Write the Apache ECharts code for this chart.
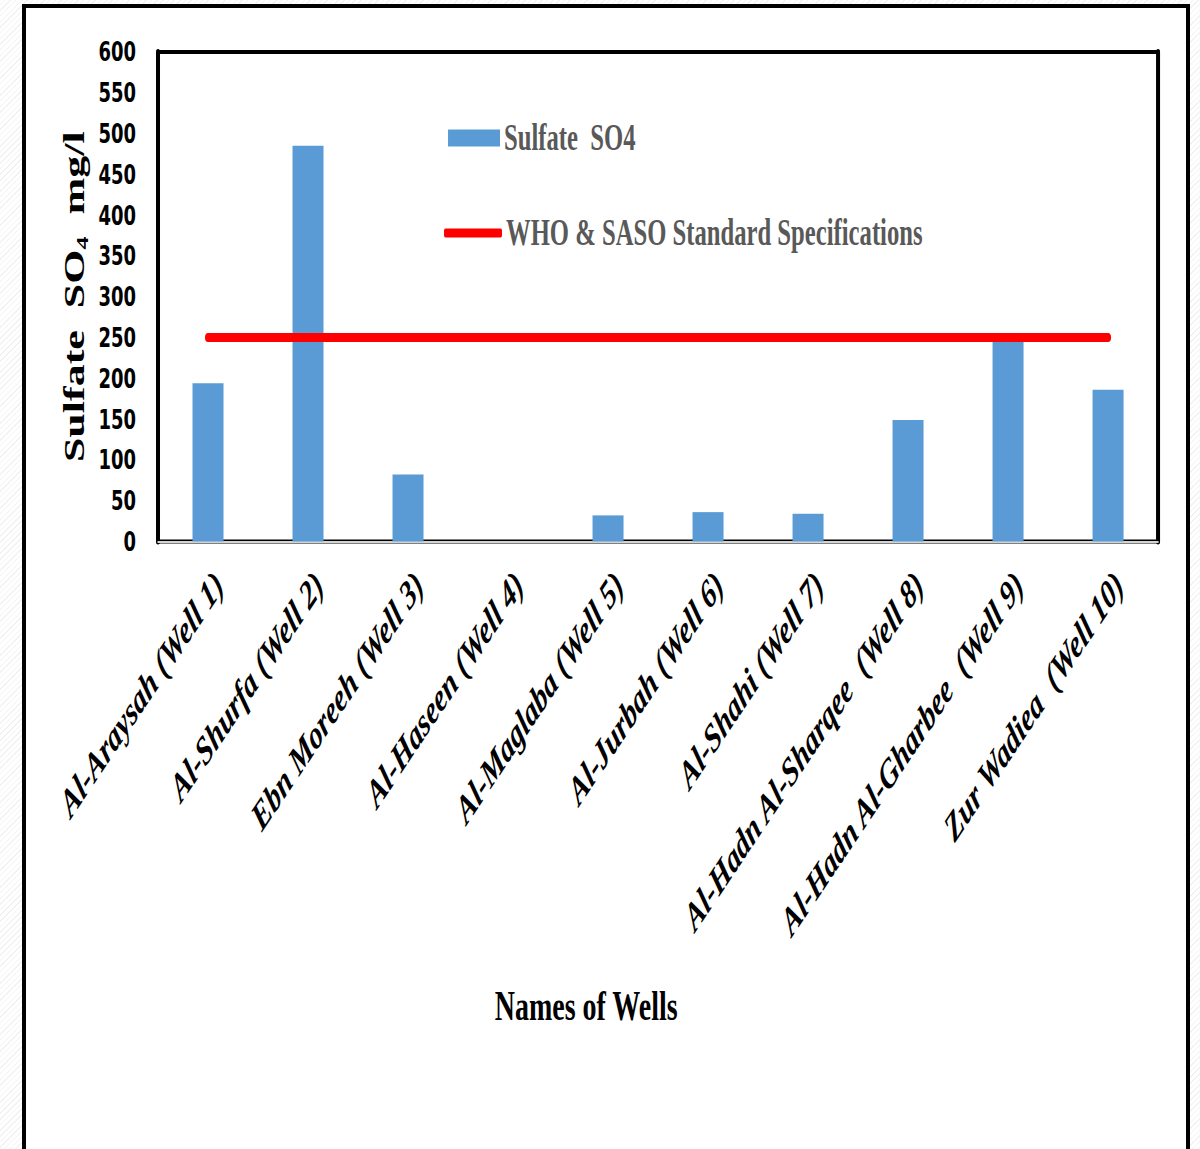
<!DOCTYPE html>
<html>
<head>
<meta charset="utf-8">
<title>Sulfate SO4 in wells</title>
<script src="https://cdn.jsdelivr.net/npm/echarts@6/dist/echarts.min.js"></script>
<style>
  html, body { margin: 0; padding: 0; width: 1200px; height: 1149px; overflow: hidden; }
  body {
    position: relative;
    background-color: #ffffff;
    background-image: repeating-linear-gradient(135deg, #ffffff 0 3px, #f2f2f2 3px 4px);
  }
  #frame {
    position: absolute; left: 22px; top: 4px; width: 1160px; height: 1200px;
    border: 4px solid #000; background: #ffffff; box-sizing: content-box;
  }
  /* the chart is laid out wide and squeezed horizontally to get the narrow lettering */
  #chart {
    position: absolute; left: 0; top: 0; width: 1800px; height: 1149px;
    transform: scaleX(0.6667); transform-origin: 0 0;
  }
</style>
</head>
<body>
<div id="frame"></div>
<div id="chart"></div>
<script>
// Well names along the category axis
const wellNames = [
  'Al-Araysah (Well 1)',
  'Al-Shurfa (Well 2)',
  'Ebn Moreeh (Well 3)',
  'Al-Haseen (Well 4)',
  'Al-Maglaba (Well 5)',
  'Al-Jurbah (Well 6)',
  'Al-Shahi (Well 7)',
  'Al-Hadn Al-Sharqee  (Well 8)',
  'Al-Hadn Al-Gharbee  (Well 9)',
  'Zur Wadiea  (Well 10)'
];
// Measured sulfate concentration, mg/l
const sulfateValues = [194, 485, 82, 0, 32, 36, 34, 149, 249, 186];
// Permissible limit (WHO & SASO), mg/l
const standardValues = [250, 250, 250, 250, 250, 250, 250, 250, 250, 250];
// Value axis range and step
const yMin = 0;
const yMax = 600;
const yStep = 50;

const barName = 'Sulfate  SO4';
const stdName = 'WHO & SASO Standard Specifications';

const serif = "'Liberation Serif', 'Times New Roman', serif";
const legendText = {
  fontFamily: serif, fontWeight: 'bold', fontSize: 37, color: '#595959',
  lineHeight: 40, padding: [0, 0, 0, 1]
};

const chart = echarts.init(document.getElementById('chart'), null, { renderer: 'svg' });

chart.setOption({
  animation: false,
  backgroundColor: 'transparent',
  title: {
    text: 'Names of Wells',
    left: 742, top: 982, padding: 0,
    textStyle: { fontFamily: serif, fontWeight: 'bold', fontSize: 42, lineHeight: 48, color: '#000' }
  },
  legend: [
    {
      data: [{ name: barName, icon: 'rect' }],
      left: 667, top: 113, itemWidth: 78, itemHeight: 17,
      selectedMode: false, textStyle: legendText
    },
    {
      data: [{ name: stdName, icon: 'roundRect' }],
      left: 661, top: 208, itemWidth: 87, itemHeight: 9,
      selectedMode: false, textStyle: legendText
    }
  ],
  grid: {
    left: 237, right: 63, top: 52, bottom: 607.5,
    show: true, borderColor: '#000', borderWidth: 4,
    containLabel: false, outerBoundsMode: 'none'
  },
  xAxis: {
    type: 'category',
    data: wellNames,
    axisLine: { show: true, lineStyle: { color: '#d4d4d4', width: 2 } },
    axisTick: { show: false },
    axisLabel: {
      interval: 0, rotate: 45, margin: 20,
      verticalAlign: 'top',
      fontFamily: serif, fontWeight: 'bold', fontStyle: 'italic',
      fontSize: 40, lineHeight: 46, color: '#000'
    }
  },
  yAxis: [
    {
      type: 'value', min: yMin, max: yMax, interval: yStep,
      splitLine: { show: false },
      axisTick: { show: false },
      axisLine: { show: true, lineStyle: { color: '#000', width: 6 } },
      axisLabel: {
        margin: 33, fontFamily: "'DejaVu Sans', sans-serif", fontWeight: 'bold',
        fontSize: 27, color: '#000'
      },
      name: 'Sulfate  SO{sub|4}  mg/l',
      nameLocation: 'middle', nameRotate: 90, nameGap: 100,
      nameTextStyle: {
        fontFamily: serif, fontWeight: 'bold', fontSize: 44, color: '#000', lineHeight: 50,
        rich: {
          sub: { fontFamily: serif, fontWeight: 'bold', fontSize: 26, lineHeight: 40, verticalAlign: 'bottom', color: '#000' }
        }
      }
    },
    {
      type: 'value', position: 'right', min: yMin, max: yMax, interval: yStep,
      splitLine: { show: false }, axisTick: { show: false }, axisLabel: { show: false },
      axisLine: { show: true, lineStyle: { color: '#000', width: 6 } }
    }
  ],
  series: [
    {
      name: barName, type: 'bar', data: sulfateValues,
      barWidth: '31%',
      itemStyle: { color: '#5B9BD5' }
    },
    {
      name: stdName, type: 'line', data: standardValues,
      symbol: 'none', z: 5,
      lineStyle: { color: '#FF0000', width: 9, cap: 'round' },
      itemStyle: { color: '#FF0000' }
    }
  ]
});
</script>
</body>
</html>
